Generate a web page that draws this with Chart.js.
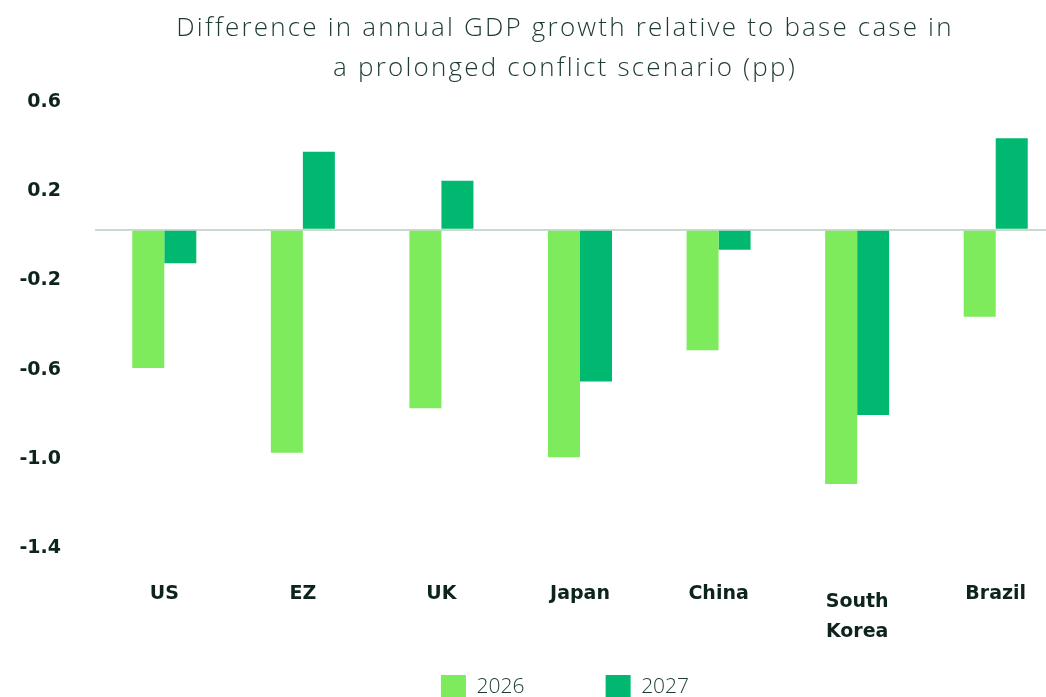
<!DOCTYPE html>
<html>
<head>
<meta charset="utf-8">
<script src="https://cdn.jsdelivr.net/npm/chart.js@4"></script>
<style>
    html, body { margin: 0; padding: 0; background: #fff; overflow: hidden; }
    .chart-container { position: relative; width: 1130px; height: 710px; }
    .chart-title {
        position: absolute;
        top: 0;
        left: 0;
        width: 1130px;
        margin: 0;
        padding-top: 6px;
        text-align: center;
        font-family: "Open Sans", sans-serif;
        font-weight: 300;
        font-size: 26px;
        line-height: 40px;
        letter-spacing: 2.2px;
        color: #1d3b31;
    }
</style>
</head>
<body>
<div class="chart-container">
    <canvas id="gdpChart"></canvas>
    <h1 class="chart-title">Difference in annual GDP growth relative to base case in<br>a prolonged conflict scenario (pp)</h1>
</div>
<script>
// Countries on the x axis ("South Korea" wraps onto two lines)
const countries = ['US', 'EZ', 'UK', 'Japan', 'China', ['South', 'Korea'], 'Brazil'];

// Difference vs base case, percentage points
const growth2026 = [-0.62, -1.0, -0.80, -1.02, -0.54, -1.14, -0.39];
const growth2027 = [-0.15, 0.35, 0.22, -0.68, -0.09, -0.83, 0.41];

const yTicks = [0.6, 0.2, -0.2, -0.6, -1.0, -1.4];

const textColor = '#0c241b';
const labelFamily = '"DejaVu Sans", sans-serif';
const lightFamily = '"Open Sans", sans-serif';

const ctx = document.getElementById('gdpChart');

new Chart(ctx, {
    type: 'bar',
    data: {
        labels: countries,
        datasets: [
            {
                label: '2026',
                data: growth2026,
                backgroundColor: '#7deb5c'
            },
            {
                label: '2027',
                data: growth2027,
                backgroundColor: '#00b86f'
            }
        ]
    },
    options: {
        responsive: true,
        maintainAspectRatio: false,
        animation: false,
        devicePixelRatio: 1,
        datasets: {
            bar: {
                categoryPercentage: 0.462,
                barPercentage: 1,
                borderWidth: 0
            }
        },
        layout: {
            padding: { top: 96 } // room for the html title
        },
        scales: {
            x: {
                grid: { display: false, drawTicks: false },
                border: { display: false },
                ticks: {
                    autoSkip: false,
                    maxRotation: 0,
                    padding: 45,
                    color: textColor,
                    // taller line box for the two-line label so it sits a little lower
                    font: (c) => ({
                        family: labelFamily,
                        size: 19,
                        weight: 'bold',
                        lineHeight: Array.isArray(countries[c.index]) ? '30px' : '14px'
                    })
                },
                afterFit: (scale) => { scale.height = 99; }
            },
            y: {
                min: -1.4,
                max: 0.6,
                grid: {
                    drawTicks: false,
                    lineWidth: 2,
                    color: (c) => (c.tick && c.tick.value === 0 ? '#cbd9d3' : 'rgba(0,0,0,0)')
                },
                border: { display: false },
                afterBuildTicks: (scale) => {
                    // zero is kept only for the baseline, its label stays empty
                    scale.ticks = [...yTicks, 0].map(value => ({ value }));
                },
                ticks: {
                    padding: 34,
                    labelOffset: 6,
                    color: textColor,
                    font: { family: labelFamily, size: 19, weight: 'bold' },
                    callback: (value) => (value === 0 ? '' : value.toFixed(1))
                },
                afterFit: (scale) => { scale.width = 95; }
            },
            // empty spacer on the right side of the plot
            yPad: {
                type: 'linear',
                position: 'right',
                grid: { display: false, drawTicks: false },
                border: { display: false },
                ticks: { display: false },
                afterFit: (scale) => { scale.width = 65; }
            }
        },
        plugins: {
            title: { display: false },
            legend: {
                position: 'bottom',
                labels: {
                    boxWidth: 25,
                    boxHeight: 25,
                    padding: 34,
                    color: '#1d3b31',
                    font: { family: lightFamily, size: 21, weight: 300 },
                    // wider gap after the first entry
                    generateLabels: (chart) => Chart.defaults.plugins.legend.labels.generateLabels(chart)
                        .map((item, i) => (i === 0 ? { ...item, text: item.text + '\u2003\u2003\u2005' } : item))
                }
            },
            tooltip: { enabled: false }
        }
    }
});
</script>
</body>
</html>
